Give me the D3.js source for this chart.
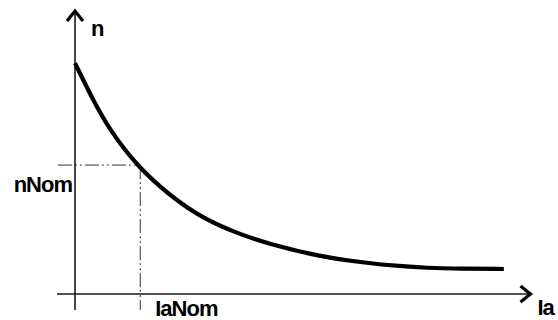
<!DOCTYPE html>
<html><head><meta charset="utf-8">
<script src="https://cdn.jsdelivr.net/npm/d3@7"></script>
<style>body{margin:0;background:#fff}svg{display:block}</style>
</head><body><svg id="c" width="558" height="320"></svg>
<script>
// Curve samples (Ia, n) in relative units
const iaValues = [0, 4, 7.8, 14, 21.1, 28.4, 36, 43.3, 54.4, 64.9, 72.2, 77.8, 86, 95.3];
const nValues  = [81.3, 68.3, 57.5, 44.7, 34.6, 26.6, 21.4, 17.5, 13.2, 10.9, 9.8, 9.2, 8.9, 8.8];
const nominal = {ia: 14.5, n: 45.4};
const labels = {y: "n", x: "Ia", yNom: "nNom", xNom: "IaNom"};

const svg = d3.select("#c");
const x = d3.scaleLinear().domain([0, 100]).range([75, 525]);
const y = d3.scaleLinear().domain([0, 100]).range([294, 10]);

const axisColor = "#1a1a1a";
// axes
svg.append("line").attr("x1", x(-4)).attr("x2", x(101)).attr("y1", y(0)).attr("y2", y(0))
  .attr("stroke", axisColor).attr("stroke-width", 1.6);
svg.append("line").attr("x1", x(0)).attr("x2", x(0)).attr("y1", y(-5.6)).attr("y2", y(100))
  .attr("stroke", axisColor).attr("stroke-width", 1.6);
// arrow heads
svg.append("path").attr("d", `M${x(0)-8},${y(100)+11}L${x(0)},${y(100)+1}L${x(0)+8},${y(100)+11}`)
  .attr("fill", "none").attr("stroke", "#000").attr("stroke-width", 3.2);
svg.append("path").attr("d", `M${x(101)-9},${y(0)-8}L${x(101)+1},${y(0)}L${x(101)-9},${y(0)+8}`)
  .attr("fill", "none").attr("stroke", "#000").attr("stroke-width", 3.2);

// nominal guide lines (dash-dot-dot)
const dash = "14,3,2,3,2,3";
svg.append("line").attr("x1", x(-3.8)).attr("x2", x(nominal.ia)).attr("y1", y(nominal.n)).attr("y2", y(nominal.n))
  .attr("stroke", "#333").attr("stroke-width", 1).attr("stroke-dasharray", dash);
svg.append("line").attr("x1", x(nominal.ia)).attr("x2", x(nominal.ia)).attr("y1", y(nominal.n)).attr("y2", y(-5.6))
  .attr("stroke", "#333").attr("stroke-width", 1).attr("stroke-dasharray", dash);

// curve
const pts = iaValues.map((v, i) => [v, nValues[i]]);
svg.append("path").datum(pts)
  .attr("d", d3.line().x(d => x(d[0])).y(d => y(d[1])).curve(d3.curveBasis))
  .attr("fill", "none").attr("stroke", "#000").attr("stroke-width", 4.2);

// labels
const font = "Liberation Sans, Arial, sans-serif";
function lab(t, px, py, anchor) {
  svg.append("text").attr("x", px).attr("y", py).attr("text-anchor", anchor || "start")
    .attr("font-family", font).attr("font-weight", "bold").attr("font-size", 22)
    .attr("letter-spacing", -1).attr("fill", "#000").text(t);
}
lab(labels.y, x(0) + 16, 36);
lab(labels.yNom, x(0) - 3, 192, "end");
lab(labels.xNom, x(nominal.ia) + 15, 316);
lab(labels.x, x(101) + 8, 315);
</script></body></html>
